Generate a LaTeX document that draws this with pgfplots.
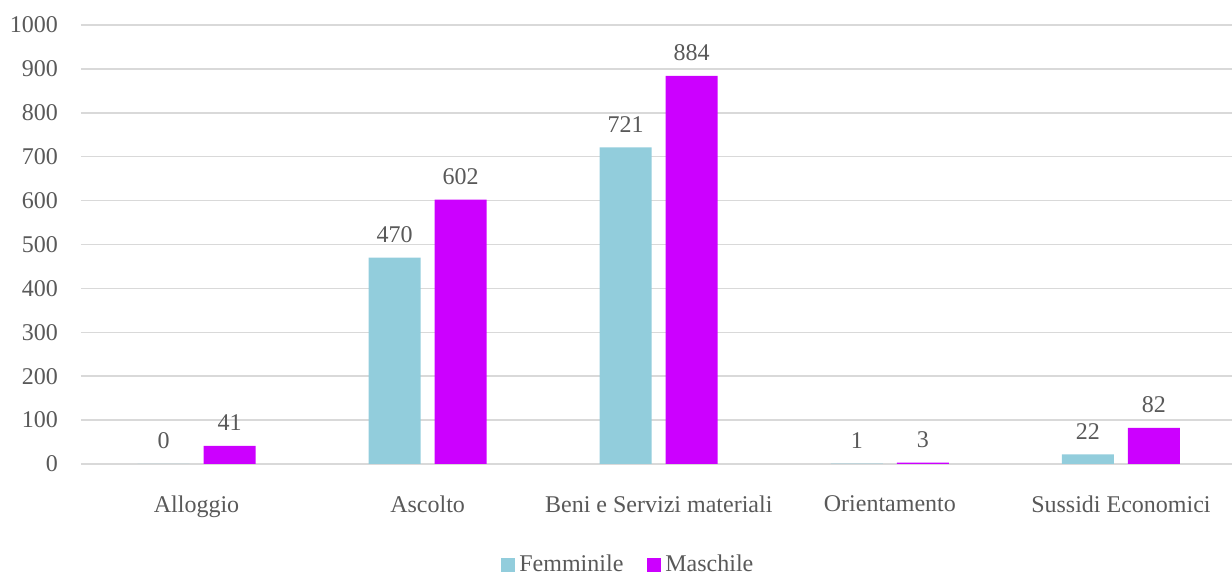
\documentclass[border=0pt]{standalone}
\usepackage{fontspec}
\setmainfont{Liberation Serif}
\usepackage{pgfplots}
\pgfplotsset{compat=1.18}
\definecolor{fem}{HTML}{92CDDC}
\definecolor{mas}{HTML}{CC00FF}
\definecolor{txt}{HTML}{595959}
\definecolor{grd}{HTML}{D9D9D9}
\begin{document}
\begin{tikzpicture}
\path[use as bounding box] (-40.5pt,-56pt) rectangle (575.5pt,232pt);
\begin{axis}[
  scale only axis, width=577.75pt, height=219.5pt,
  xmin=-0.5, xmax=4.5, ymin=0, ymax=1000,
  ybar=7pt, bar width=26pt,
  xtick={0,1,2,3,4},
  xticklabels={Alloggio,Ascolto,Beni e Servizi materiali,Orientamento,Sussidi Economici},
  ytick={0,100,...,1000},
  /pgf/number format/1000 sep={},
  ymajorgrids, grid style={grd, line width=0.75pt},
  axis line style={draw=none},
  major tick length=0pt,
  tick label style={txt, font=\fontsize{12}{14}\selectfont},
  /pgf/number format/assume math mode=true,
  yticklabel style={xshift=-8pt},
  xticklabel style={yshift=-12.5pt},
  nodes near coords,
  every node near coord/.append style={txt, font=\fontsize{12}{14}\selectfont, yshift=4pt},
  legend style={at={(0.4725,0)}, anchor=center, xshift=1.2pt, yshift=-50.5pt, draw=none,
    font=\fontsize{12}{14}\selectfont, text=txt,
    /tikz/every even column/.append style={column sep=10pt}},
  legend columns=2,
  legend image code/.code={\draw[#1,draw=none] (0pt,-3.5pt) rectangle (7pt,3.5pt);},
]
\addplot[fill=fem, draw=none] coordinates {(0,0) (1,470) (2,721) (3,1) (4,22)};
\addplot[fill=mas, draw=none] coordinates {(0,41) (1,602) (2,884) (3,3) (4,82)};
\legend{Femminile,Maschile}
\end{axis}
\end{tikzpicture}
\end{document}
